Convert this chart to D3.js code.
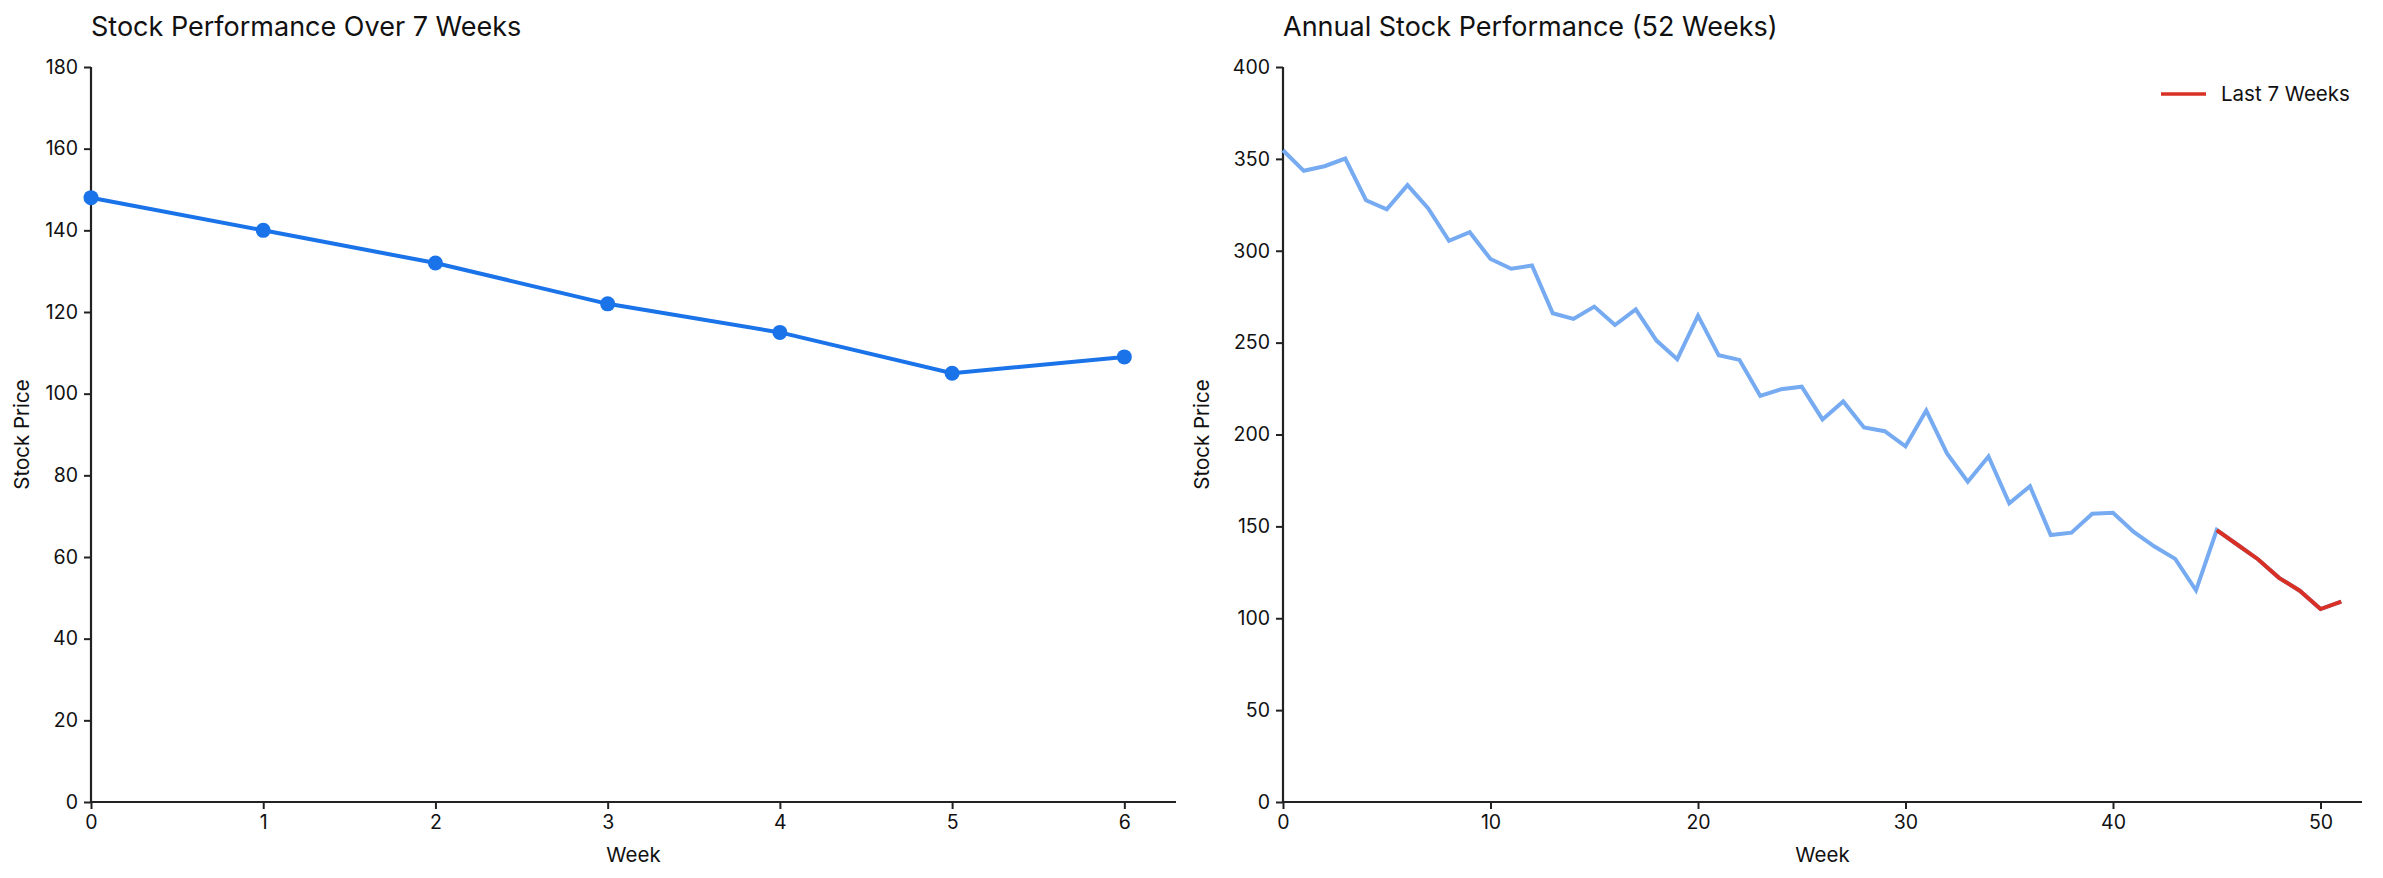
<!DOCTYPE html>
<html>
<head>
<meta charset="utf-8">
<script src="https://cdn.jsdelivr.net/npm/d3@7"></script>
<style>
  html, body { margin: 0; padding: 0; background: #fff; }
  svg { display: block; }
  text { font-family: Inter, "DejaVu Sans", sans-serif; fill: #111; }
</style>
</head>
<body>
<svg id="chart" width="2383" height="878"></svg>
<script>
// ---- data ----
const recentWeeks = [0, 1, 2, 3, 4, 5, 6];
const recentPrices = [148, 140, 132, 122, 115, 105, 109];

const annualWeeks = d3.range(0, 52);
const annualPrices = [
  354.7, 343.5, 346, 350.2, 327.5, 322.5, 335.7, 323, 305.4, 310.1,
  295.5, 290.2, 292, 266, 262.9, 269.6, 259.6, 268.1, 251.1, 241,
  264.7, 243.1, 240.6, 221, 224.6, 226, 208.2, 218, 203.8, 201.8,
  193.6, 213, 189.7, 174.3, 188, 162.6, 171.8, 145.3, 146.6, 156.9,
  157.4, 147, 139, 132.3, 115.2, 148, 140, 132, 122, 115,
  105, 109
];
const lastStart = 45;

const leftYTicks = [0, 20, 40, 60, 80, 100, 120, 140, 160, 180];
const leftXTicks = [0, 1, 2, 3, 4, 5, 6];
const rightYTicks = [0, 50, 100, 150, 200, 250, 300, 350, 400];
const rightXTicks = [0, 10, 20, 30, 40, 50];

const titles = ["Stock Performance Over 7 Weeks", "Annual Stock Performance (52 Weeks)"];
const xLabel = "Week";
const yLabel = "Stock Price";
const legendLabel = "Last 7 Weeks";

// ---- style ----
const blue = "#1a73e8";
const lightBlue = "#76abf1";
const red = "#d93025";
const axisColor = "#222";
const tickFont = 19.5;
const labelFont = 20.5;
const titleFont = 27;

const svg = d3.select("#chart");

const plotTop = 67, plotBottom = 802;

function drawAxes(g, x, y, xTicks, yTicks, title) {
  const xAxis = d3.axisBottom(x).tickValues(xTicks).tickFormat(d3.format("d")).tickSize(7).tickPadding(6);
  const yAxis = d3.axisLeft(y).tickValues(yTicks).tickFormat(d3.format("d")).tickSize(7).tickPadding(6);
  const gx = g.append("g").attr("transform", `translate(0,${plotBottom})`).call(xAxis);
  const gy = g.append("g").attr("transform", `translate(${x.range()[0]},0)`).call(yAxis);
  [gx, gy].forEach(a => {
    a.select(".domain").attr("stroke", axisColor).attr("stroke-width", 2.2);
    a.selectAll(".tick line").attr("stroke", axisColor).attr("stroke-width", 2);
    a.selectAll(".tick text").style("font-size", tickFont + "px").style("font-family", "Inter, sans-serif").attr("fill", "#111");
  });
  gy.select(".domain").attr("d", `M0,${y.range()[1]}V${plotBottom}`);
  gx.select(".domain").attr("d", `M${x.range()[0]},0H${x.range()[1]}`);
  const xr = x.range();
  g.append("text").attr("x", (xr[0] + xr[1]) / 2).attr("y", 862)
    .attr("text-anchor", "middle").style("font-size", labelFont + "px").text(xLabel);
  g.append("text").attr("x", xr[0]).attr("y", 36)
    .attr("text-anchor", "start").style("font-size", titleFont + "px").text(title);
}

// ---- left chart ----
{
  const x = d3.scaleLinear().domain([0, 6.3]).range([91, 1176]);
  const y = d3.scaleLinear().domain([0, 180]).range([plotBottom, plotTop]);
  const g = svg.append("g");
  drawAxes(g, x, y, leftXTicks, leftYTicks, titles[0]);
  g.append("text").attr("transform", `translate(29,${(plotTop + plotBottom) / 2}) rotate(-90)`)
    .attr("text-anchor", "middle").style("font-size", labelFont + "px").text(yLabel);
  const line = d3.line().x((d, i) => x(recentWeeks[i])).y(d => y(d));
  g.append("path").datum(recentPrices).attr("d", line)
    .attr("fill", "none").attr("stroke", blue).attr("stroke-width", 4);
  g.selectAll("circle").data(recentPrices).join("circle")
    .attr("cx", (d, i) => x(recentWeeks[i])).attr("cy", d => y(d)).attr("r", 7.5)
    .attr("fill", blue);
}

// ---- right chart ----
{
  const x = d3.scaleLinear().domain([0, 52]).range([1283, 2362]);
  const y = d3.scaleLinear().domain([0, 400]).range([plotBottom, plotTop]);
  const g = svg.append("g");
  drawAxes(g, x, y, rightXTicks, rightYTicks, titles[1]);
  g.append("text").attr("transform", `translate(1209,${(plotTop + plotBottom) / 2}) rotate(-90)`)
    .attr("text-anchor", "middle").style("font-size", labelFont + "px").text(yLabel);
  const line = d3.line().x((d, i) => x(annualWeeks[i])).y(d => y(d));
  g.append("path").datum(annualPrices).attr("d", line)
    .attr("fill", "none").attr("stroke", lightBlue).attr("stroke-width", 4);
  const lastIdx = d3.range(lastStart, annualPrices.length);
  const line2 = d3.line().x(i => x(annualWeeks[i])).y(i => y(annualPrices[i]));
  g.append("path").datum(lastIdx).attr("d", line2)
    .attr("fill", "none").attr("stroke", red).attr("stroke-width", 4);
  // legend
  const lg = g.append("g");
  lg.append("line").attr("x1", 2161).attr("x2", 2206).attr("y1", 94).attr("y2", 94)
    .attr("stroke", red).attr("stroke-width", 3.5);
  lg.append("text").attr("x", 2221).attr("y", 101).style("font-size", labelFont + "px").text(legendLabel);
}
</script>
</body>
</html>
